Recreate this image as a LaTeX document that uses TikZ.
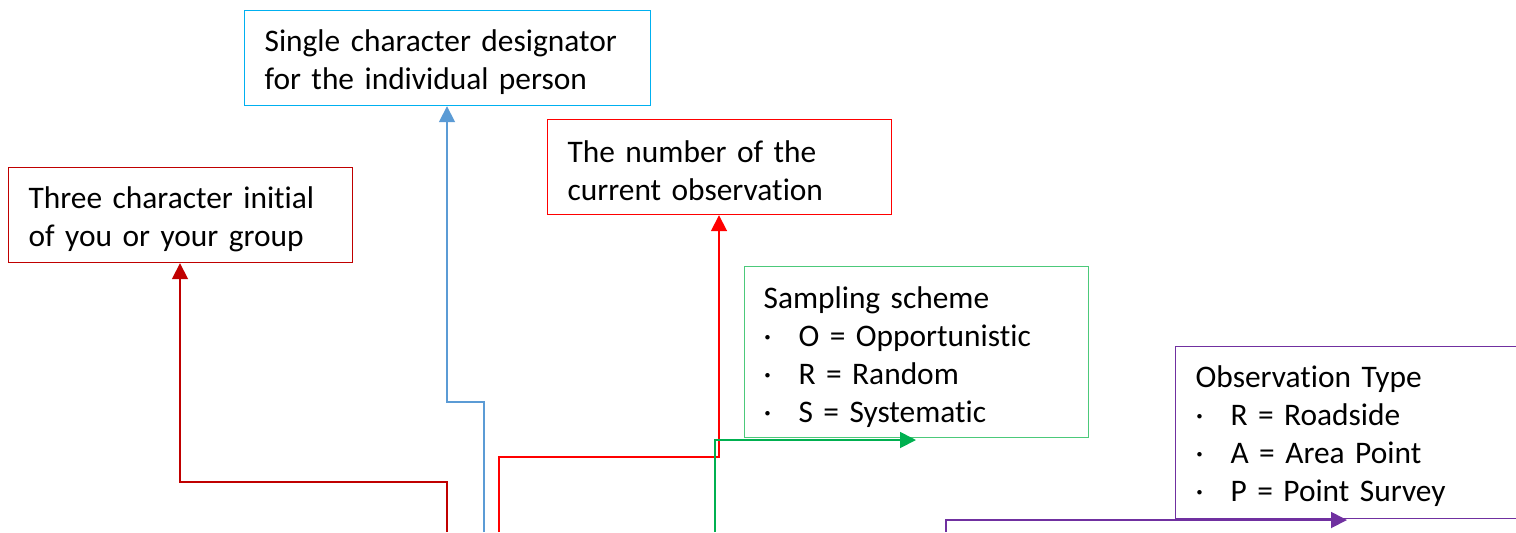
\documentclass[tikz,border=0pt]{standalone}
\usepackage{fontspec}
\setmainfont{Carlito}[Ligatures=NoCommon]
\usetikzlibrary{arrows.meta,calc}
\definecolor{cA}{HTML}{C00000}
\definecolor{cBbox}{HTML}{00B0F0}
\definecolor{cBarr}{HTML}{5B9BD5}
\definecolor{cC}{HTML}{FF0000}
\definecolor{cDbox}{HTML}{4CC97A}
\definecolor{cDarr}{HTML}{00B050}
\definecolor{cE}{HTML}{7030A0}
\newcommand{\blt}{\makebox[17.5pt][l]{·}}
\begin{document}
\begin{tikzpicture}[x=0.5pt,y=-0.5pt,
  font=\fontsize{15.7pt}{19pt}\selectfont,
  tbox/.style={draw, rectangle, anchor=north west, inner sep=0pt, line width=0.6pt},
  txt/.style={inner sep=0pt, align=left},
  conn/.style={line width=0.9pt, -{Triangle[length=8pt,width=8pt]}}]
\useasboundingbox (0,0) rectangle (1516,532);
\clip (0,0) rectangle (1516,532);

\node[tbox, draw=cA, minimum width=172pt, minimum height=47.5pt] (A) at (8,167) {};
\node[txt, text width=152pt] (tA) at ($(A.center)+(0,4)$)
  {Three character initial\\of you or your group};
\node[tbox, draw=cBbox, minimum width=203pt, minimum height=47.5pt] (B) at (244,10) {};
\node[txt, text width=183pt] (tB) at ($(B.center)+(0,4)$)
  {Single character designator\\for the individual person};
\node[tbox, draw=cC, minimum width=172pt, minimum height=47.5pt] (C) at (547,119) {};
\node[txt, text width=152pt] (tC) at ($(C.center)+(0,4)$)
  {The number of the\\current observation};
\node[tbox, draw=cDbox, minimum width=172pt, minimum height=85.5pt] (D) at (744,266) {};
\node[txt, text width=153pt] (tD) at ($(D.center)+(0,5)$)
  {Sampling scheme\\\blt O = Opportunistic\\\blt R = Random\\\blt S = Systematic};
\node[tbox, draw=cE, minimum width=200pt, minimum height=86pt] (E) at (1175,346) {};
\node[txt, text width=180pt] (tE) at ($(E.center)+(0,4)$)
  {Observation Type\\\blt R = Roadside\\\blt A = Area Point\\\blt P = Point Survey};

\coordinate (sA) at (447,532);
\coordinate (kA) at (180,482);
\coordinate (sB) at (484,532);
\coordinate (kB) at (447,402);
\coordinate (sC) at (499,532);
\coordinate (kC) at (719,457);
\coordinate (sD) at (715,532);
\coordinate (eD) at (916,440);
\coordinate (sE) at (946,532);
\coordinate (eE) at (1347,520);

\draw[conn, draw=cA] (sA) |- (kA) -- (kA |- A.south);
\draw[conn, draw=cBarr] (sB) |- (kB) -- (kB |- B.south);
\draw[conn, draw=cC] (sC) |- (kC) -- (kC |- C.south);
\draw[conn, draw=cDarr] (sD) |- (eD);
\draw[conn, draw=cE] (sE) |- (eE);
\end{tikzpicture}
\end{document}
